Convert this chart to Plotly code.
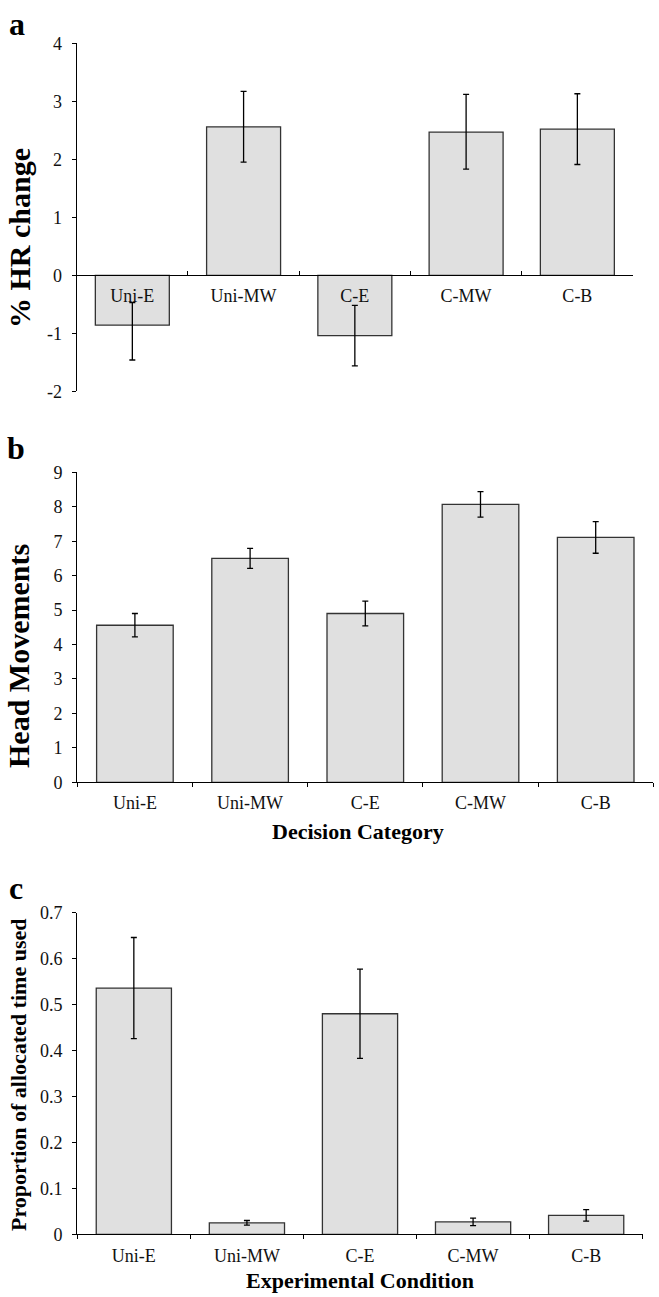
import plotly.graph_objects as go

W, H = 659, 1297

categories = ["Uni-E", "Uni-MW", "C-E", "C-MW", "C-B"]

# Panel a: % HR change
hr_vals = [-0.86, 2.56, -1.04, 2.47, 2.52]
hr_err_plus = [0.39, 0.61, 0.52, 0.65, 0.61]
hr_err_minus = [0.60, 0.61, 0.52, 0.64, 0.61]
hr_tickvals = [-2, -1, 0, 1, 2, 3, 4]
hr_ticktext = ["-2", "-1", "0", "1", "2", "3", "4"]

# Panel b: Head movements
head_vals = [4.56, 6.50, 4.90, 8.07, 7.11]
head_err = [0.34, 0.29, 0.36, 0.37, 0.46]
head_tickvals = [0, 1, 2, 3, 4, 5, 6, 7, 8, 9]
head_ticktext = ["0", "1", "2", "3", "4", "5", "6", "7", "8", "9"]

# Panel c: Proportion of allocated time used
prop_vals = [0.536, 0.025, 0.480, 0.027, 0.041]
prop_err = [0.110, 0.005, 0.097, 0.008, 0.0125]
prop_tickvals = [0, 0.1, 0.2, 0.3, 0.4, 0.5, 0.6, 0.7]
prop_ticktext = ["0", "0.1", "0.2", "0.3", "0.4", "0.5", "0.6", "0.7"]

SERIF = "Liberation Serif, Times New Roman, serif"
BAR_FILL = "#e0e0e0"
BAR_LINE = "#333333"


def px_x(p):
    return p / W


def px_y(p):
    return 1 - p / H


fig = go.Figure()

def add_bar(vals, plus, minus, xa, ya):
    fig.add_trace(go.Bar(
        x=categories, y=vals, xaxis=xa, yaxis=ya,
        marker=dict(color=BAR_FILL, line=dict(color=BAR_LINE, width=1.3)),
        error_y=dict(type="data", symmetric=False, array=plus, arrayminus=minus,
                     color="black", thickness=1.3, width=3),
        showlegend=False, hoverinfo="skip",
    ))

add_bar(hr_vals, hr_err_plus, hr_err_minus, "x", "y")
add_bar(head_vals, head_err, head_err, "x2", "y2")
add_bar(prop_vals, prop_err, prop_err, "x3", "y3")

tickfont = dict(family=SERIF, size=18, color="#111111")

common_x = dict(type="category", range=[-0.5, 4.5], showline=True, linecolor="black",
                linewidth=1.3, tickson="boundaries", ticklen=4, tickcolor="black",
                tickwidth=1.2, tickfont=tickfont, showgrid=False, zeroline=False,
                fixedrange=True, automargin=False)
common_y = dict(showline=True, linecolor="black", linewidth=1.3, ticks="outside",
                ticklen=4, tickcolor="black", tickwidth=1.2, tickfont=tickfont,
                showgrid=False, zeroline=False, ticklabelstandoff=6, fixedrange=True,
                automargin=False)

# panel geometry (pixels)
a_left, a_right, a_top, a_bot = 76.7, 633.0, 43.3, 391.3
a_zero = 275.3
b_left, b_right, b_top, b_bot = 77.3, 653.3, 472.3, 782.3
c_left, c_right, c_top, c_bot = 77.3, 642.7, 912.7, 1234.3

fig.update_layout(
    template="none",
    width=W, height=H,
    margin=dict(l=0, r=0, t=0, b=0, pad=0),
    paper_bgcolor="white", plot_bgcolor="white",
    bargap=0.335,
    xaxis=dict(common_x, domain=[px_x(a_left), px_x(a_right)], anchor="free",
               position=px_y(a_zero), ticks="inside", ticklabelstandoff=4),
    yaxis=dict(common_y, domain=[px_y(a_bot), px_y(a_top)], anchor="x", range=[-2, 4],
               tickvals=hr_tickvals, ticktext=hr_ticktext),
    xaxis2=dict(common_x, domain=[px_x(b_left), px_x(b_right)], anchor="y2",
                ticks="outside", ticklabelstandoff=4),
    yaxis2=dict(common_y, domain=[px_y(b_bot), px_y(b_top)], anchor="x2", range=[0, 9],
                tickvals=head_tickvals, ticktext=head_ticktext),
    xaxis3=dict(common_x, domain=[px_x(c_left), px_x(c_right)], anchor="y3",
                ticks="outside", ticklabelstandoff=5),
    yaxis3=dict(common_y, domain=[px_y(c_bot), px_y(c_top)], anchor="x3", range=[0, 0.7],
                tickvals=prop_tickvals, ticktext=prop_ticktext),
)

def ann(text, x, y, size, angle=0):
    fig.add_annotation(text=text, xref="paper", yref="paper", x=px_x(x), y=px_y(y),
                       xanchor="center", yanchor="middle", showarrow=False,
                       textangle=angle, font=dict(family=SERIF, size=size, color="black"))

# panel letters
ann("<b>a</b>", 17, 24, 32)
ann("<b>b</b>", 16, 448, 32)
ann("<b>c</b>", 16, 888, 32)

# y titles
ann("<b>% HR change</b>", 19, 238, 30, -90)
ann("<b>Head Movements</b>", 18, 656, 30, -90)
ann("<b>Proportion of allocated time used</b>", 18, 1075, 22, -90)

# x titles
ann("<b>Decision Category</b>", 358, 831, 22)
ann("<b>Experimental Condition</b>", 360, 1280, 22)

fig.write_html(
    "out.html",
    config={"displayModeBar": False},
    post_script="document.body.style.margin='0';document.body.style.overflow='hidden';",
)
